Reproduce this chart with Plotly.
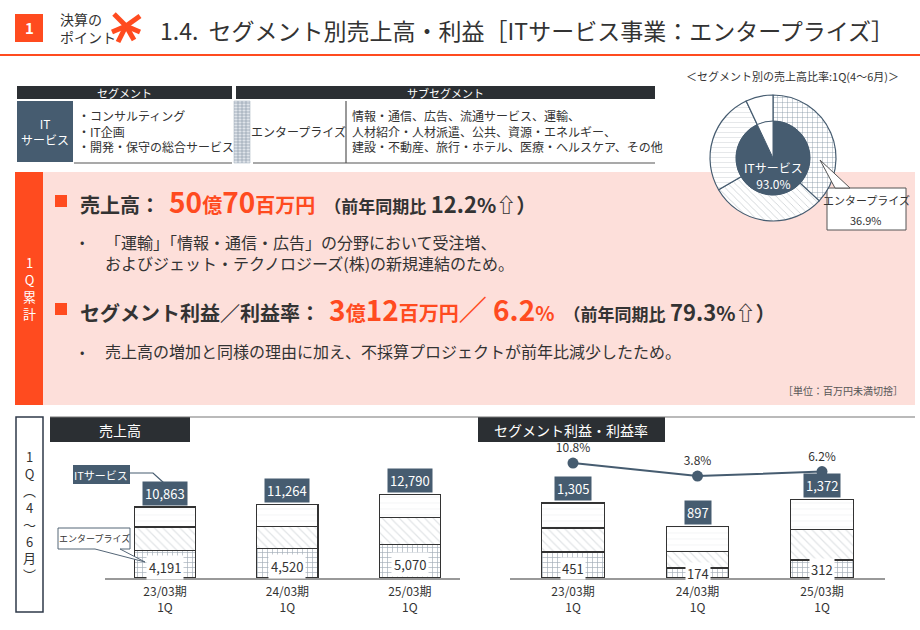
import plotly.graph_objects as go

W, H = 920, 630
FONT = "Noto Sans CJK JP"
ORANGE = "#FF4B1F"
SLATE = "#465C70"
DARK = "#2B2F33"
PINK = "#FDDFDA"

periods = ["23/03期<br>1Q", "24/03期<br>1Q", "25/03期<br>1Q"]
xs = [0, 1, 2]
# 売上高 (ITサービス) stacks
sales_enterprise = [4191, 4520, 5070]
sales_mid = [3600, 3400, 4170]
sales_top = [3072, 3344, 3550]
sales_total = [10863, 11264, 12790]
# セグメント利益
profit_enterprise = [451, 174, 312]
profit_mid = [419, 283, 538]
profit_top = [435, 440, 522]
profit_total = [1305, 897, 1372]
profit_rate = [10.8, 3.8, 6.2]
# pie
ring_labels = ["エンタープライズ", "その他A", "その他B", "その他"]
ring_values = [36.9, 29.7, 26.4, 7.0]
inner_labels = ["ITサービス", "その他"]
inner_values = [93.0, 7.0]


def px(x):
    return x / W


def py(y):
    return 1 - y / H


fig = go.Figure()

def stack(xa, ya, bottom, mid, top):
    common = dict(x=xs, xaxis=xa, yaxis=ya, width=0.5, showlegend=False, hoverinfo="skip")
    fig.add_trace(go.Bar(y=bottom, marker=dict(color="white", line=dict(color="#333", width=1.2),
                         pattern=dict(shape="+", fgcolor=SLATE, size=5, solidity=0.25)), **common))
    fig.add_trace(go.Bar(y=mid, marker=dict(color="white", line=dict(color="#333", width=1.2),
                         pattern=dict(shape="\\", fgcolor="#c4c9ce", size=6, solidity=0.2)), **common))
    fig.add_trace(go.Bar(y=top, marker=dict(color="white", line=dict(color="#333", width=1.2),
                         pattern=dict(shape="-", fgcolor="#e0e3e6", size=6, solidity=0.12)), **common))

stack("x", "y", sales_enterprise, sales_mid, sales_top)
stack("x2", "y2", profit_enterprise, profit_mid, profit_top)
fig.add_trace(go.Scatter(x=xs, y=profit_rate, xaxis="x2", yaxis="y3", mode="lines+markers+text",
                         line=dict(color=SLATE, width=2), marker=dict(size=11, color=SLATE),
                         text=[f"{v}%" for v in profit_rate], textposition="top center",
                         textfont=dict(size=12, color="#333", family=FONT),
                         showlegend=False, hoverinfo="skip"))

# pies
fig.add_trace(go.Pie(labels=ring_labels, values=ring_values, hole=0.58, sort=False, direction="clockwise",
                     rotation=0, textinfo="none", showlegend=False, hoverinfo="skip",
                     domain=dict(x=[px(710), px(836)], y=[py(221), py(95)]),
                     marker=dict(colors=["white"] * 4, line=dict(color=SLATE, width=1.2),
                                 pattern=dict(shape=["+", "\\", "-", ""], fgcolor=["#7d8ea0", "#c8ccd0", "#dde0e3", "white"],
                                              size=5, solidity=0.15))))
fig.add_trace(go.Pie(labels=inner_labels, values=inner_values, sort=False, direction="clockwise",
                     rotation=0, textinfo="none", showlegend=False, hoverinfo="skip",
                     domain=dict(x=[px(736), px(810)], y=[py(195), py(121)]),
                     marker=dict(colors=[SLATE, "white"], line=dict(color=SLATE, width=1))))

ax_common = dict(showgrid=False, zeroline=False, tickfont=dict(size=12, color="#333", family=FONT),
                 showline=True, linecolor="#999", linewidth=1.5, ticks="", tickmode="array",
                 tickvals=xs, ticktext=periods, fixedrange=True, ticklabelstandoff=2)
fig.update_layout(
    width=W, height=H, margin=dict(l=0, r=0, t=0, b=0), paper_bgcolor="white", plot_bgcolor="rgba(0,0,0,0)",
    barmode="stack", font=dict(family=FONT, color="#333"),
    xaxis=dict(domain=[px(105), px(460)], range=[-0.49, 2.41], anchor="y", **ax_common),
    yaxis=dict(domain=[py(578), py(470)], range=[0, 16524], visible=False),
    xaxis2=dict(domain=[px(510), px(885)], range=[-0.506, 2.506], anchor="y2", **ax_common),
    yaxis2=dict(domain=[py(578), py(440)], range=[0, 2401], visible=False),
    yaxis3=dict(domain=[py(578), py(440)], range=[-51.1, 23.2], visible=False, overlaying="y2", anchor="x2"),
)

shapes = []
ann = []

def rect(x0, y0, x1, y1, fill, line=None, lw=1):
    shapes.append(dict(type="rect", xref="paper", yref="paper", x0=px(x0), x1=px(x1), y0=py(y1), y1=py(y0),
                       fillcolor=fill, line=dict(color=line or fill, width=lw if line else 0), layer="below"))

def text(x, y, s, size=12, color="#333", xanchor="left", **kw):
    ann.append(dict(xref="paper", yref="paper", x=px(x), y=py(y), text=s, showarrow=False, xanchor=xanchor,
                    yanchor="middle", font=dict(size=size, color=color, family=FONT), **kw))

def line(x0, y0, x1, y1, color, w=1):
    shapes.append(dict(type="line", xref="paper", yref="paper", x0=px(x0), x1=px(x1), y0=py(y0), y1=py(y1),
                       line=dict(color=color, width=w)))

# header
rect(15, 14, 43, 42, ORANGE)
text(29, 28, "<b>1</b>", 15, "white", "center")
text(58, 28, "決算の<br>ポイント", 14, "#333", align="left")
for dx0, dy0, dx1, dy1 in [(114, 14, 126, 26), (140, 16, 126, 26), (118, 42, 126, 26), (134, 40, 126, 26), (112, 32, 126, 26), (140, 32, 126, 26)]:
    line(dx0, dy0, dx1, dy1, ORANGE, 5)
text(158, 30, "1.4.  セグメント別売上高・利益［ITサービス事業：エンタープライズ］", 23, "#333")
line(0, 55, 920, 55, ORANGE, 2)

# table
rect(17, 86, 232, 99, DARK)
rect(236, 86, 655, 99, DARK)
text(124, 93, "セグメント", 11, "white", "center")
text(445, 93, "サブセグメント", 11, "white", "center")
rect(17, 101, 73, 162, SLATE)
text(45, 131, "IT<br>サービス", 12, "white", "center")
text(76, 131, "・コンサルティング<br>・IT企画<br>・開発・保守の総合サービス", 12, "#333", align="left")
shapes.append(dict(type="rect", xref="paper", yref="paper", x0=px(234), x1=px(250), y0=py(163), y1=py(101),
                   fillcolor="#dfe4ea", line=dict(color="#9aa8b6", width=0.5)))
for yy in range(103, 163, 3):
    line(234, yy, 250, yy, "#8796a6", 0.6)
for xx in [238, 242, 246]:
    line(xx, 101, xx, 163, "#8796a6", 0.6)
text(298, 131, "エンタープライズ", 12, "#333", "center")
line(346, 101, 346, 163, "#555", 1.2)
text(350, 131, "情報・通信、広告、流通サービス、運輸、<br>人材紹介・人材派遣、公共、資源・エネルギー、<br>建設・不動産、旅行・ホテル、医療・ヘルスケア、その他",
     12, "#333", align="left")
line(74, 163, 232, 163, "#555", 1.2)
line(253, 163, 655, 163, "#555", 1.2)

# pie caption & callout
text(792, 76, "＜セグメント別の売上高比率:1Q(4～6月)＞", 11, "#333", "center")
text(773, 175, "ITサービス<br>93.0%", 12, "white", "center")

# pink box
rect(15, 172, 915, 405, PINK)
rect(15, 172, 43, 405, ORANGE)
text(29, 288, "1<br>Q<br>累<br>計", 13, "white", "center")
rect(827, 188, 906, 230, "white", "#555", 1)
shapes.append(dict(type="path", xref="paper", yref="paper",
                   path=f"M {px(820)} {py(160)} L {px(850)} {py(188)} L {px(835)} {py(188)} Z",
                   fillcolor="white", line=dict(color="#555", width=1)))
text(866, 200, "エンタープライズ", 11, "#333", "center")
text(866, 220, "36.9%", 11, "#333", "center")

rect(55, 195, 67, 207, ORANGE)
text(78, 201, f"<b>売上高：  <span style='color:{ORANGE};font-size:28px'>50</span><span style='color:{ORANGE};font-size:20px'>億</span>"
     f"<span style='color:{ORANGE};font-size:28px'>70</span><span style='color:{ORANGE};font-size:20px'>百万円</span>"
     f"  <span style='font-size:17px'>（前年同期比</span> <span style='font-size:22px'>12.2</span>%⇧）</b>", 20)
text(78, 242, "•", 13)
text(103, 252, "「運輸」「情報・通信・広告」の分野において受注増、<br>およびジェット・テクノロジーズ(株)の新規連結のため。", 16, align="left")
rect(55, 303, 67, 315, ORANGE)
text(78, 309, f"<b>セグメント利益／利益率：  <span style='color:{ORANGE};font-size:28px'>3</span><span style='color:{ORANGE};font-size:20px'>億</span>"
     f"<span style='color:{ORANGE};font-size:28px'>12</span><span style='color:{ORANGE};font-size:20px'>百万円</span>"
     f"<span style='color:{ORANGE};font-size:28px'>／ 6.2</span><span style='color:{ORANGE};font-size:20px'>%</span>"
     f"  <span style='font-size:17px'>（前年同期比</span> <span style='font-size:22px'>79.3</span>%⇧）</b>", 20)
text(78, 351, "•", 13)
text(103, 351, "売上高の増加と同様の理由に加え、不採算プロジェクトが前年比減少したため。", 16)
text(905, 390, "［単位：百万円未満切捨］", 10, "#555", "right")

# bottom section
shapes.append(dict(type="rect", xref="paper", yref="paper", x0=px(16), x1=px(43), y0=py(612), y1=py(417),
                   line=dict(color="#2f3a4a", width=1.5)))
text(29, 515, "1<br>Q<br>︵<br>4<br>～<br>6<br>月<br>︶", 13, "#333", "center")
line(50, 417, 915, 417, "#777", 1.2)
rect(50, 417, 190, 442, DARK)
text(120, 430, "売上高", 14, "white", "center")
rect(478, 417, 665, 442, DARK)
text(571, 430, "セグメント利益・利益率", 14, "white", "center")

# data labels
for i in xs:
    ann.append(dict(x=i, y=sales_total[i], xref="x", yref="y", yshift=14, text=f"{sales_total[i]:,}", showarrow=False,
                    bgcolor=SLATE, font=dict(size=13, color="white", family=FONT), borderpad=2))
    ann.append(dict(x=i, y=sales_enterprise[i] / 2, xref="x", yref="y", yshift=-3, text=f"{sales_enterprise[i]:,}", showarrow=False,
                    bgcolor="white", font=dict(size=13, color="#333", family=FONT), borderpad=2))
    ann.append(dict(x=i, y=profit_total[i], xref="x2", yref="y2", yshift=14, text=f"{profit_total[i]:,}", showarrow=False,
                    bgcolor=SLATE, font=dict(size=13, color="white", family=FONT), borderpad=2))
    ann.append(dict(x=i, y=max(profit_enterprise[i] / 2, 45), xref="x2", yref="y2", yshift=-3 if i == 0 else 0,
                    text=f"{profit_enterprise[i]:,}", showarrow=False,
                    bgcolor="white", font=dict(size=13, color="#333", family=FONT), borderpad=1))

# callouts in sales chart
rect(73, 465, 130, 484, SLATE)
text(101, 475, "ITサービス", 11, "white", "center")
shapes.append(dict(type="path", xref="paper", yref="paper",
                   path=f"M {px(130)} {py(473)} L {px(153)} {py(473)} L {px(164)} {py(483)}",
                   line=dict(color=SLATE, width=1.2)))
shapes.append(dict(type="path", xref="paper", yref="paper",
                   path=f"M {px(58)} {py(528)} L {px(130)} {py(528)} L {px(130)} {py(549)} L {px(120)} {py(549)} L {px(145)} {py(562)} L {px(95)} {py(549)} L {px(58)} {py(549)} Z",
                   fillcolor="white", line=dict(color="#556677", width=1)))
text(94, 538, "エンタープライズ", 9, "#333", "center")

fig.update_layout(shapes=shapes, annotations=ann)
fig.write_html("out.html", config={"displayModeBar": False},
               post_script="document.body.style.margin='0';document.body.style.overflow='hidden';")
